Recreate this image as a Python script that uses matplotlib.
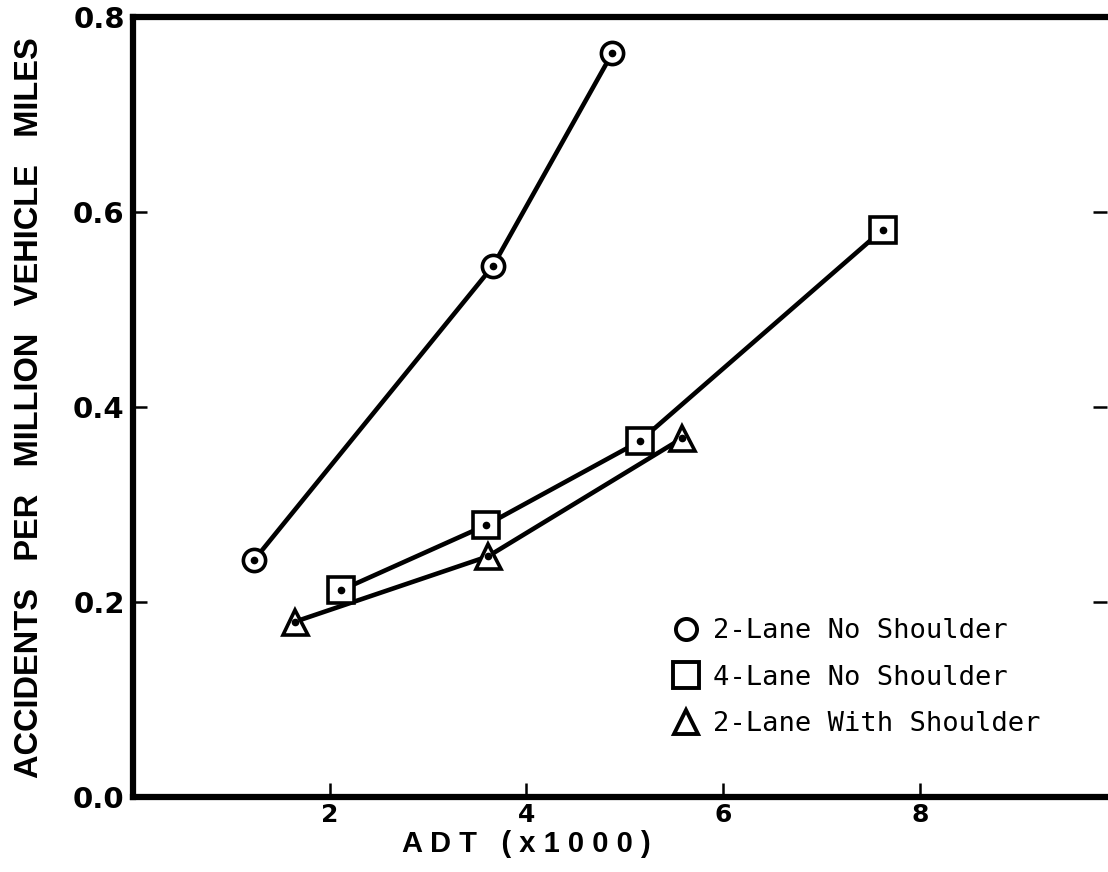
import matplotlib.pyplot as plt

# datos
adt_2l_ns = [1.23, 3.66, 4.87]
acc_2l_ns = [0.243, 0.545, 0.763]

adt_4l_ns = [2.11, 3.59, 5.15, 7.62]
acc_4l_ns = [0.212, 0.279, 0.365, 0.582]

adt_2l_ws = [1.65, 3.61, 5.58]
acc_2l_ws = [0.180, 0.247, 0.368]

labels = ['2-Lane No Shoulder', '4-Lane No Shoulder', '2-Lane With Shoulder']
xticks = [2, 4, 6, 8]
yticks = [0.0, 0.2, 0.4, 0.6, 0.8]

fig = plt.figure(figsize=(11.08, 8.72), dpi=100)
ax = fig.add_axes([0.120, 0.086, 0.879, 0.894])

series = [(adt_2l_ns, acc_2l_ns, 'o', 16),
          (adt_4l_ns, acc_4l_ns, 's', 19),
          (adt_2l_ws, acc_2l_ws, '^', 18)]
handles = []
for (x, y, mk, ms), lab in zip(series, labels):
    ax.plot(x, y, '-', color='k', lw=3.3, zorder=2)
    ax.plot(x, y, mk, ms=ms, mfc='white', mec='k', mew=2.6, zorder=3)
    ax.plot(x, y, 'o', ms=4.5, color='k', zorder=4)
    h, = ax.plot([], [], mk, ms=ms * 0.95, mfc='white', mec='k', mew=2.8, label=lab)
    handles.append(h)

ax.set_xlim(0, 9.9)
ax.set_ylim(0, 0.8)
ax.set_xticks(xticks)
ax.set_xticklabels([str(t) for t in xticks])
ax.set_yticks(yticks)
ax.set_yticklabels(['%.1f' % t for t in yticks])

for s in ['left', 'bottom', 'top']:
    ax.spines[s].set_linewidth(4.5)
ax.spines['right'].set_visible(False)

ax.tick_params(axis='x', direction='in', length=10, width=1.8, labelsize=18, pad=4)
ax.tick_params(axis='y', direction='in', length=10, width=1.8, labelsize=21, pad=6,
               right=True)
for t in ax.get_xticklabels() + ax.get_yticklabels():
    t.set_fontweight('bold')

ax.text(-0.106, 0.5, 'ACCIDENTS   PER   MILLION   VEHICLE   MILES', transform=ax.transAxes,
        rotation=90, ha='center', va='center', fontsize=23.5, fontweight='bold',
        family='Liberation Sans')
ax.text(4.0, -0.034, 'A D T   ( x 1 0 0 0 )', ha='center', va='top',
        fontsize=21, fontweight='bold', family='Liberation Sans', clip_on=False)

ax.legend(handles=handles, loc='center left', bbox_to_anchor=(0.551, 0.153),
          frameon=False, borderpad=0, borderaxespad=0,
          handletextpad=0.4, labelspacing=0.75, handlelength=1.2,
          prop={'family': 'DejaVu Sans Mono', 'size': 19.5})

fig.savefig('out.png', dpi=100)
